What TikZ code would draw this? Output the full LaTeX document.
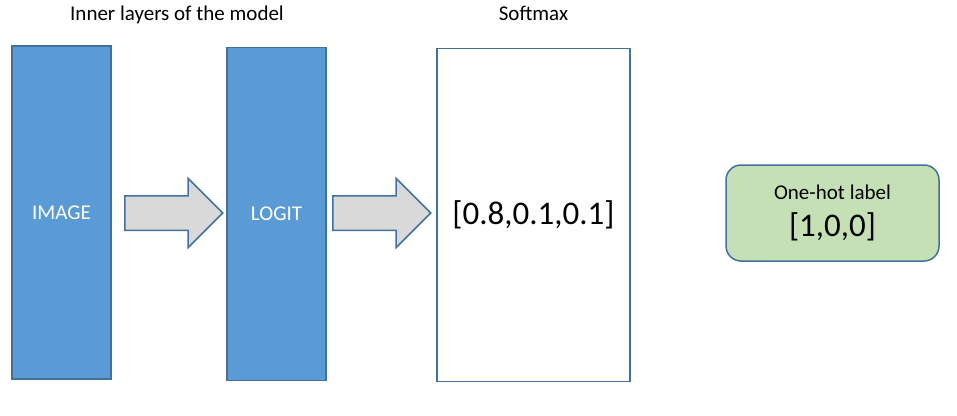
\documentclass[tikz,border=0pt]{standalone}
\usepackage{fontspec}
\setmainfont{Carlito}
\usetikzlibrary{shapes.arrows}
\definecolor{layerblue}{HTML}{5B9BD5}
\definecolor{edgeblue}{HTML}{41719C}
\definecolor{arrowgray}{HTML}{D9D9D9}
\definecolor{onehotgreen}{HTML}{C5E0B4}
\begin{document}
\begin{tikzpicture}[x=1pt,y=-1pt]
        % Define styles
        \tikzset{
            layer/.style={rectangle, draw=edgeblue, line width=1.5pt, fill=layerblue, text=white, minimum width=99pt, minimum height=333pt, font=\fontsize{21}{25}\selectfont},
            output/.style={rectangle, draw=edgeblue, line width=1.5pt, fill=white, minimum width=193pt, minimum height=333pt, font=\fontsize{33}{36}\selectfont},
            onehot/.style={rectangle, rounded corners=15pt, draw=edgeblue, line width=1.5pt, fill=onehotgreen, minimum width=213pt, minimum height=96pt, font=\fontsize{21}{25}\selectfont},
            flow/.style={single arrow, anchor=tail, draw=edgeblue, line width=1.5pt, fill=arrowgray, minimum height=98pt, inner xsep=0pt, inner ysep=16.5pt, single arrow head extend=17.5pt},
            title/.style={anchor=base, font=\fontsize{21}{25}\selectfont}
        }
        \useasboundingbox (0,0) rectangle (957,415);

        % Titles
        \node[title] (inner_title) at (177,20) {Inner layers of the model};
        \node[title] (softmax_title) at (533.5,20) {Softmax};

        % Nodes
        \node[layer] (image_node) at (61.5,212.5) {IMAGE};
        \node[flow] (flow_node_1) at (124,213) {};
        \node[layer] (logit_node) at (276.5,214) {LOGIT};
        \node[flow] (flow_node_2) at (332,213) {};
        \node[output] (softmax_node) at (533.5,215) {[0.8,0.1,0.1]};
        \node[onehot] (onehot_node) at (832.5,213) {\parbox{200pt}{\centering One-hot label\\ \fontsize{33}{37}\selectfont [1,0,0]}};
    \end{tikzpicture}
\end{document}
